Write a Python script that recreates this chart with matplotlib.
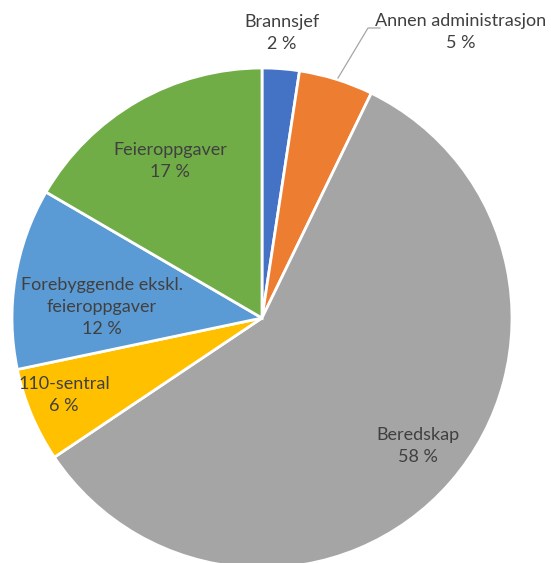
import numpy as np
import matplotlib.pyplot as plt

categories = ['Brannsjef', 'Annen administrasjon', 'Beredskap', '110-sentral',
              'Forebyggende ekskl.\nfeieroppgaver', 'Feieroppgaver']
shares = [2.4, 4.8, 58.4, 6.1, 11.7, 16.6]
colors = ['#4472C4', '#ED7D31', '#A5A5A5', '#FFC000', '#5B9BD5', '#70AD47']

# label positions in pixels (x, y from top)
label_pos = [(282, 33), (461, 32), (418, 446), (64, 395), (102, 307), (170, 161)]

W, H = 551, 563
fig = plt.figure(figsize=(W / 100, H / 100), dpi=100)
ax = fig.add_axes([0, 0, 1, 1])

cx, cy, r = 262, 318, 250
ax.pie(shares, colors=colors, startangle=90, counterclock=False,
       center=(cx, H - cy), radius=r,
       wedgeprops=dict(edgecolor='white', linewidth=2))
ax.set_xlim(0, W)
ax.set_ylim(0, H)
ax.set_aspect('equal')
ax.axis('off')

for name, val, (px, py) in zip(categories, shares, label_pos):
    ax.text(px, H - py, f'{name}\n{round(val):.0f} %', ha='center', va='center',
            fontsize=13, color='#404040', family=['Lato', 'DejaVu Sans'],
            linespacing=1.45)

# leader line for the small orange slice
ax.plot([338, 368, 380], [H - 78, H - 28, H - 28], color='#A6A6A6', lw=0.9)

fig.savefig('out.png', dpi=100)
